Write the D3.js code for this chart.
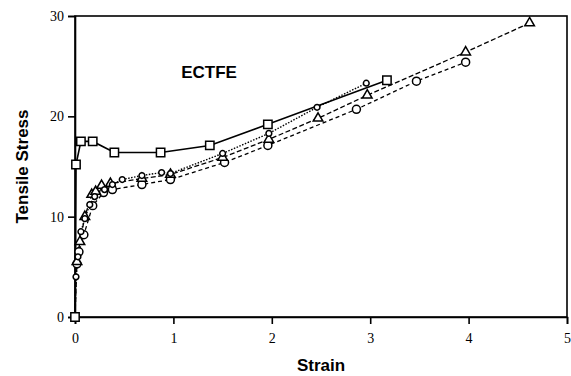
<!DOCTYPE html>
<html>
<head>
<meta charset="utf-8">
<script src="https://cdn.jsdelivr.net/npm/d3@7"></script>
<style>
  body { margin: 0; background: #fff; }
  svg { display: block; }
</style>
</head>
<body>
<script>
// values (strain, stress)
const squarePts = [[0, 0], [0.01, 15.2], [0.06, 17.5], [0.18, 17.5], [0.4, 16.4], [0.87, 16.4], [1.37, 17.1], [1.96, 19.2], [3.17, 23.6]];
const dotPts = [[0, 0], [0.01, 4], [0.03, 6], [0.06, 8.5], [0.1, 9.8], [0.15, 11.2], [0.2, 12], [0.3, 12.7], [0.38, 13.2], [0.48, 13.7], [0.68, 14.1], [0.88, 14.4], [0.97, 14.3], [1.5, 16.3], [1.97, 18.3], [2.46, 20.9], [2.96, 23.3]];
const trianglePts = [[0, 0], [0.02, 5.5], [0.05, 7.5], [0.1, 10], [0.17, 12.2], [0.21, 12.5], [0.27, 13.1], [0.36, 13.3], [0.68, 13.8], [0.97, 14.2], [1.5, 15.9], [1.97, 17.7], [2.47, 19.8], [2.97, 22.1], [3.97, 26.4], [4.62, 29.3]];
const circlePts = [[0.02, 5.3], [0.04, 6.5], [0.09, 8.2], [0.18, 11.1], [0.29, 12.4], [0.38, 12.7], [0.68, 13.2], [0.97, 13.7], [1.52, 15.4], [1.96, 17.1], [2.86, 20.7], [3.47, 23.5], [3.97, 25.4]];
const xTicks = [0, 1, 2, 3, 4, 5];
const yTicks = [0, 10, 20, 30];

const w = 571, h = 376;
const mLeft = 75, mRight = 567, mTop = 16, mBottom = 317;

const svg = d3.select("body")
  .append("svg")
  .attr("width", w)
  .attr("height", h);

const x = d3.scaleLinear().domain([0, 5]).range([mLeft, mRight]);
const y = d3.scaleLinear().domain([0, 30]).range([mBottom, mTop]);

// frame
svg.append("rect")
  .attr("x", mLeft).attr("y", mTop)
  .attr("width", mRight - mLeft).attr("height", mBottom - mTop)
  .attr("fill", "none").attr("stroke", "#000").attr("stroke-width", 1.6);

const xAxis = svg.append("g")
  .attr("transform", `translate(0,${mBottom})`)
  .call(d3.axisBottom(x).tickValues(xTicks).tickSize(7).tickPadding(9).tickFormat(d3.format("d")));
const yAxis = svg.append("g")
  .attr("transform", `translate(${mLeft},0)`)
  .call(d3.axisLeft(y).tickValues(yTicks).tickSize(7).tickPadding(4).tickFormat(d3.format("d")));

[xAxis, yAxis].forEach(g => {
  g.select(".domain").attr("stroke-width", 1.6);
  g.selectAll(".tick line").attr("stroke-width", 1.6);
  g.selectAll(".tick text")
    .attr("font-family", "'Liberation Serif', 'DejaVu Serif', serif")
    .attr("font-size", 14)
    .attr("fill", "#000");
});

const line = d3.line().x(d => x(d[0])).y(d => y(d[1]));

const series = [
  { pts: circlePts, dash: "4,3", width: 1.3, shape: "circle" },
  { pts: trianglePts, dash: "5,2.5", width: 1.3, shape: "triangle" },
  { pts: dotPts, dash: "1.5,1.5", width: 1.4, shape: "dot" },
  { pts: squarePts, dash: null, width: 1.6, shape: "square" }
];

series.forEach(s => {
  svg.append("path")
    .datum(s.pts)
    .attr("d", line)
    .attr("fill", "none")
    .attr("stroke", "#000")
    .attr("stroke-width", s.width)
    .attr("stroke-dasharray", s.dash);
});

const symbolFor = {
  circle: d3.symbol().type(d3.symbolCircle).size(50),
  triangle: d3.symbol().type(d3.symbolTriangle).size(40),
  dot: d3.symbol().type(d3.symbolCircle).size(26),
  square: d3.symbol().type(d3.symbolSquare).size(70)
};

series.forEach(s => {
  svg.append("g")
    .selectAll("path")
    .data(s.pts.filter(d => !(d[0] === 0 && d[1] === 0 && s.shape !== "square")))
    .enter()
    .append("path")
    .attr("transform", d => `translate(${x(d[0])},${y(d[1])})`)
    .attr("d", symbolFor[s.shape])
    .attr("fill", "#fff")
    .attr("stroke", "#000")
    .attr("stroke-width", 1.5);
});

svg.append("text")
  .attr("x", 209).attr("y", 78)
  .attr("text-anchor", "middle")
  .attr("font-family", "'Liberation Sans', Arial, sans-serif")
  .attr("font-weight", "bold")
  .attr("font-size", 17)
  .text("ECTFE");

svg.append("text")
  .attr("x", (mLeft + mRight) / 2).attr("y", 371)
  .attr("text-anchor", "middle")
  .attr("font-family", "'Liberation Sans', Arial, sans-serif")
  .attr("font-weight", "bold")
  .attr("font-size", 17)
  .text("Strain");

svg.append("text")
  .attr("transform", `translate(28,${(mTop + mBottom) / 2}) rotate(-90)`)
  .attr("text-anchor", "middle")
  .attr("font-family", "'Liberation Sans', Arial, sans-serif")
  .attr("font-weight", "bold")
  .attr("font-size", 17)
  .text("Tensile Stress");
</script>
</body>
</html>
